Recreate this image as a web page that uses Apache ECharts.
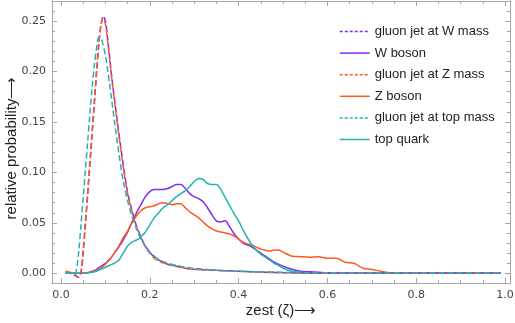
<!DOCTYPE html>
<html>
<head>
	<meta charset="utf-8">
	<title>zest</title>
	<style>body{margin:0;} #chart1{width:515px;height:323px;}</style>
</head>
<body>
	<div id="chart1"></div>
	<script src="https://cdn.jsdelivr.net/npm/echarts@6/dist/echarts.min.js"></script>
	<script>
	// sample positions (zest)
	var dashX = [0.01,0.02,0.03,0.04,0.045,0.05,0.055,0.06,0.065,0.07,0.075,0.08,0.085,0.09,0.095,0.10,0.105,0.11,0.115,0.12,0.13,0.14,0.15,0.16,0.17,0.18,0.19,0.20,0.21,0.22,0.24,0.26,0.28,0.30,0.35,0.40,0.45,0.50,0.55,0.60,0.70,0.80,0.90,0.99];
	var gluonW = [0,0,-0.001,-0.004,0,0.020,0.048,0.077,0.107,0.137,0.167,0.198,0.226,0.246,0.255,0.250,0.233,0.212,0.192,0.174,0.140,0.108,0.080,0.062,0.047,0.036,0.027,0.021,0.016,0.013,0.009,0.007,0.005,0.004,0.003,0.002,0.0012,0.0006,0.0003,0.0001,0,0,0,0];
	var gluonZ = [0.002,0.001,-0.002,-0.004,0.002,0.024,0.052,0.081,0.111,0.141,0.171,0.201,0.228,0.246,0.253,0.247,0.230,0.210,0.190,0.172,0.138,0.106,0.079,0.061,0.046,0.035,0.026,0.020,0.015,0.012,0.009,0.007,0.005,0.004,0.003,0.002,0.0012,0.0006,0.0003,0.0001,0,0,0,0];

	var topDashX = [0.01,0.02,0.03,0.035,0.04,0.045,0.05,0.055,0.06,0.065,0.07,0.075,0.08,0.085,0.09,0.095,0.10,0.105,0.11,0.12,0.13,0.14,0.15,0.16,0.17,0.18,0.19,0.20,0.22,0.24,0.26,0.28,0.30,0.35,0.40,0.45,0.50,0.55,0.60,0.70,0.80,0.90,0.99];
	var gluonTop = [0,0,-0.001,0.004,0.022,0.048,0.075,0.103,0.130,0.158,0.184,0.206,0.223,0.234,0.233,0.226,0.216,0.202,0.186,0.152,0.120,0.092,0.072,0.056,0.044,0.034,0.027,0.021,0.014,0.010,0.008,0.006,0.005,0.003,0.002,0.0015,0.001,0.0005,0.0002,0,0,0,0];

	var solidX = [0.01,0.04,0.06,0.07,0.08,0.09,0.10,0.11,0.12,0.13,0.14,0.15,0.16,0.17,0.18,0.19,0.20,0.21,0.22,0.23,0.24,0.25,0.26,0.27,0.28,0.29,0.30,0.31,0.32,0.33,0.34,0.35,0.36,0.37,0.38,0.39,0.40,0.41,0.42,0.43,0.44,0.45,0.46,0.47,0.48,0.49,0.50,0.52,0.54,0.56,0.58,0.60,0.62,0.64,0.66,0.68,0.70,0.72,0.74,0.76,0.80,0.90,0.99];
	var wBoson = [0,0,0.0005,0.002,0.004,0.007,0.010,0.014,0.020,0.026,0.033,0.041,0.051,0.060,0.068,0.076,0.081,0.083,0.083,0.083,0.084,0.086,0.088,0.088,0.084,0.079,0.076,0.074,0.071,0.065,0.058,0.052,0.051,0.052,0.046,0.039,0.034,0.030,0.028,0.026,0.023,0.020,0.017,0.014,0.011,0.009,0.007,0.004,0.002,0.0015,0.001,0.0005,0.0003,0.0002,0,0,0,0,0,0,0,0,0];
	var zBoson = [0,0,0.0005,0.0015,0.003,0.005,0.009,0.014,0.020,0.027,0.035,0.042,0.050,0.057,0.062,0.065,0.066,0.067,0.069,0.070,0.069,0.068,0.069,0.069,0.065,0.061,0.058,0.055,0.051,0.047,0.044,0.042,0.041,0.040,0.039,0.037,0.034,0.031,0.029,0.028,0.026,0.024,0.023,0.022,0.023,0.023,0.021,0.017,0.0165,0.016,0.0165,0.015,0.015,0.011,0.010,0.005,0.004,0.002,0.0005,0,0,0,0];
	var topQuark = [0,0,0.0005,0.001,0.002,0.004,0.006,0.008,0.010,0.013,0.020,0.027,0.031,0.033,0.036,0.041,0.048,0.055,0.060,0.065,0.068,0.072,0.076,0.079,0.082,0.086,0.091,0.094,0.093,0.089,0.088,0.088,0.083,0.075,0.067,0.059,0.052,0.043,0.035,0.028,0.023,0.019,0.016,0.013,0.010,0.008,0.005,0.002,0.001,0.0005,0,0,0,0,0,0,0,0,0,0,0,0,0];

	var xTicks = [0, 0.2, 0.4, 0.6, 0.8, 1.0];
	var yTicks = [0, 0.05, 0.10, 0.15, 0.20, 0.25];

	var names = ['gluon jet at W mass', 'W boson', 'gluon jet at Z mass', 'Z boson', 'gluon jet at top mass', 'top quark'];
	var colors = ['#7f2bf5', '#7f2bf5', '#ff5a1e', '#ff5a1e', '#21b3b3', '#21b3b3'];

	function pairs(xs, ys) {
		var out = [];
		for (var i = 0; i < xs.length; i++) out.push([xs[i], ys[i]]);
		return out;
	}

	// minor tick positions between the major ones
	function minors(major, n) {
		var out = [];
		for (var i = 0; i < major.length - 1; i++) {
			var step = (major[i + 1] - major[i]) / n;
			for (var k = 1; k < n; k++) out.push(+(major[i] + k * step).toFixed(4));
		}
		return out;
	}
	var xMinor = minors(xTicks, 4);
	var yMinor = minors(yTicks, 5);
	yMinor.push(0.26);

	var frameColor = '#a6a6a6';
	var xMin = -0.0203, xMax = 1.0113, yMin = -0.0096, yMax = 0.2699;

	function xAx(pos, ticks, len, labels) {
		return {
			type: 'value', position: pos, min: xMin, max: xMax,
			axisLine: { show: true, onZero: false, lineStyle: { color: frameColor, width: 1 } },
			axisTick: { show: true, inside: true, length: len, customValues: ticks, lineStyle: { color: frameColor } },
			axisLabel: labels ? { show: true, customValues: ticks, margin: 7, color: '#444', fontFamily: 'DejaVu Sans', fontSize: 11,
				formatter: function (v) { return v.toFixed(1); } } : { show: false },
			splitLine: { show: false }
		};
	}
	function yAx(pos, ticks, len, labels) {
		return {
			type: 'value', position: pos, min: yMin, max: yMax,
			axisLine: { show: true, onZero: false, lineStyle: { color: frameColor, width: 1 } },
			axisTick: { show: true, inside: true, length: len, customValues: ticks, lineStyle: { color: frameColor } },
			axisLabel: labels ? { show: true, customValues: ticks, margin: 6, color: '#444', fontFamily: 'DejaVu Sans', fontSize: 11,
				formatter: function (v) { return v.toFixed(2); } } : { show: false },
			splitLine: { show: false }
		};
	}

	var xAxes = [xAx('bottom', xTicks, 5, true), xAx('top', xTicks, 5, false), xAx('bottom', xMinor, 3, false), xAx('top', xMinor, 3, false)];
	var yAxes = [yAx('left', yTicks, 5, true), yAx('right', yTicks, 5, false), yAx('left', yMinor, 3, false), yAx('right', yMinor, 3, false)];
	xAxes[0].name = 'zest (\u03b6)\u27f6';
	xAxes[0].nameLocation = 'middle';
	xAxes[0].nameGap = 20;
	xAxes[0].nameMoveOverlap = false;
	xAxes[0].nameTextStyle = { fontFamily: 'Liberation Sans', fontSize: 15, color: '#222' };
	yAxes[0].name = 'relative probability\u27f6';
	yAxes[0].nameLocation = 'middle';
	yAxes[0].nameGap = 33;
	yAxes[0].nameMoveOverlap = false;
	yAxes[0].nameTextStyle = { fontFamily: 'Liberation Sans', fontSize: 15, color: '#222', padding: [0, 12, 0, 0] };

	var seriesData = [pairs(dashX, gluonW), pairs(solidX, wBoson), pairs(dashX, gluonZ), pairs(solidX, zBoson), pairs(topDashX, gluonTop), pairs(solidX, topQuark)];
	var series = [];
	var legendData = [];
	for (var i = 0; i < names.length; i++) {
		var dashed = (i % 2 === 0);
		series.push({
			name: names[i], type: 'line', xAxisIndex: 0, yAxisIndex: 0,
			data: seriesData[i], symbol: 'none', smooth: 0.3,
			lineStyle: { color: colors[i], width: 1.5, type: dashed ? [6, 3] : 'solid' },
			itemStyle: { color: colors[i] },
			z: dashed ? 3 : 2
		});
		legendData.push({
			name: names[i],
			itemStyle: { opacity: 0 },
			lineStyle: { type: dashed ? [3, 2] : 'solid', width: 1.5, opacity: 1 }
		});
	}

	var myChart = echarts.init(document.getElementById('chart1'));
	myChart.setOption({
		animation: false,
		grid: { left: 52, right: 5, top: 1, bottom: 40, outerBoundsMode: 'none' },
		legend: {
			data: legendData, orient: 'vertical', left: 339, top: 25, padding: 0,
			itemWidth: 30, itemHeight: 14, itemGap: 8.6,
			textStyle: { fontFamily: 'Liberation Sans', fontSize: 13, color: '#222' }
		},
		xAxis: xAxes,
		yAxis: yAxes,
		series: series
	});
	</script>
</body>
</html>
